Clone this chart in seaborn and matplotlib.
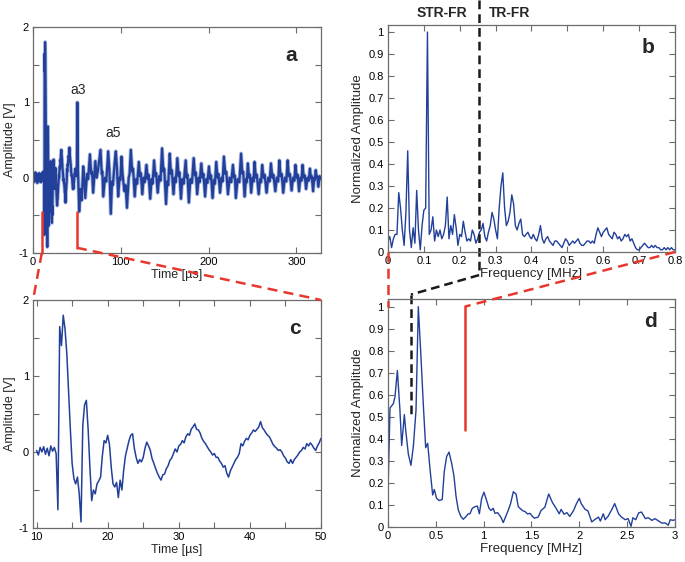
import numpy as np
import pandas as pd
import seaborn as sns
import matplotlib.pyplot as plt
from matplotlib.lines import Line2D

sns.set_theme(style="ticks")
plt.rcParams["font.family"] = ["Liberation Sans", "DejaVu Sans"]
plt.rcParams["axes.unicode_minus"] = False

BLUE = "#22409a"
RED = "#e8372c"

# ---- panel c: first arrivals, 10-50 us, one value every 0.25 us ----
v_c = [
    0.02, -0.04, 0.06, 0.00,     # 10
    0.07, -0.03, 0.05, -0.05,    # 11
    0.08, 0.01, 0.06, -0.02,     # 12
    -0.76, 1.65, 1.40, 1.80,     # 13
    1.62, 1.30, 0.80, 0.30,      # 14
    -0.15, -0.35, -0.42, -0.33,  # 15
    -0.55, -0.92, 0.35, 0.62,    # 16
    0.68, 0.30, -0.20, -0.64,    # 17
    -0.50, -0.55, -0.42, -0.38,  # 18
    -0.33, -0.05, 0.15, 0.12,    # 19
    0.22, 0.10, -0.20, -0.42,    # 20
    -0.46, -0.40, -0.60, -0.37,  # 21
    -0.50, -0.24, -0.05, 0.05,   # 22
    0.15, 0.22, 0.24, 0.05,      # 23
    -0.07, -0.15, -0.10, -0.13,  # 24
    -0.07, 0.05, 0.13, 0.08,     # 25
    0.02, -0.09, -0.15, -0.22,   # 26
    -0.28, -0.33, -0.37, -0.30,  # 27
    -0.29, -0.22, -0.18, -0.11,  # 28
    -0.08, -0.02, 0.04, 0.00,    # 29
    0.08, 0.10, 0.15, 0.12,      # 30
    0.20, 0.24, 0.22, 0.30,      # 31
    0.33, 0.37, 0.30, 0.29,      # 32
    0.25, 0.18, 0.14, 0.11,      # 33
    0.07, 0.03, 0.00, -0.04,     # 34
    -0.02, -0.07, -0.07, -0.12,  # 35
    -0.15, -0.20, -0.18, -0.28,  # 36
    -0.33, -0.25, -0.20, -0.15,  # 37
    -0.10, -0.07, -0.02, 0.11,   # 38
    0.08, 0.14, 0.18, 0.16,      # 39
    0.22, 0.25, 0.29, 0.27,      # 40
    0.30, 0.33, 0.40, 0.32,      # 41
    0.29, 0.25, 0.22, 0.20,      # 42
    0.15, 0.10, 0.07, 0.05,      # 43
    0.02, 0.03, 0.00, -0.05,     # 44
    -0.08, -0.13, -0.15, -0.10,  # 45
    -0.15, -0.10, -0.07, -0.04,  # 46
    0.00, 0.02, 0.06, 0.04,      # 47
    0.11, 0.08, 0.12, 0.09,      # 48
    0.05, 0.02, 0.08, 0.12,      # 49
    0.18,                        # 50
]
t_c = np.linspace(10, 50, len(v_c))

# ---- panel a: whole record, 0-328 us ----
t_head = [0.0, 0.7, 1.4, 2.1, 2.8, 3.5, 4.2, 4.9, 5.6, 6.3, 7.0, 7.7, 8.4, 9.1, 9.7]
v_head = [0.02, -0.06, 0.05, -0.04, 0.07, -0.05, 0.03, -0.07, 0.05, -0.03, 0.06, -0.05, 0.04, -0.06, 0.05]

t_tail = [
    50.5, 51.2, 52.6, 54.0, 55.5, 57.2, 58.3, 59.5, 61.5, 62.8,
    64.8, 66.3, 67.2, 68.5, 70.0, 71.0, 72.5, 74.0,
    76.9, 78.3, 79.0, 80.0, 82.0, 83.5,
    85.6, 87.0, 88.6, 90.0, 91.0,
    93.0, 94.3, 95.5, 97.0, 98.5, 99.5,
    100.8, 102.0, 104.0, 105.5, 107.0, 109.0, 110.0,
    111.4, 113.0, 114.0, 115.8, 117.3, 118.6,
    120.5, 121.8, 122.8, 124.5, 126.0, 127.3,
    129.2, 130.6, 131.6, 133.5, 135.0, 136.2,
    137.9, 139.3, 140.3, 142.0, 143.8, 145.2,
    147.0, 148.5, 149.5, 151.5, 152.8, 154.0,
    155.7, 157.1, 158.1, 160.0, 161.4, 162.6,
    164.4, 165.8, 166.8, 168.5, 170.0, 171.6,
    173.9, 175.0, 175.9, 177.5, 179.2, 181.0,
    183.0, 184.4, 185.4, 187.0, 188.6, 189.8,
    191.7, 193.1, 194.1, 196.0, 197.4, 198.6,
    200.4, 201.8, 202.8, 204.5, 206.0, 207.2,
    208.7, 210.2, 211.2, 213.0, 214.7, 216.0,
    217.4, 219.0, 220.2, 222.0, 224.0, 225.8,
    227.7, 229.0, 229.9, 231.0, 233.0, 235.0,
    237.0, 238.4, 239.4, 241.0, 242.5, 243.5,
    244.7, 246.0, 247.0, 248.5, 250.0, 251.2,
    252.3, 253.8, 254.9, 257.0, 258.6, 259.8,
    261.0, 262.6, 263.8, 266.0, 267.8, 269.5,
    271.0, 272.6, 273.8, 276.0, 277.6, 279.2,
    280.6, 282.0, 283.2, 285.0, 286.8, 288.5,
    290.0, 291.4, 292.6, 294.5, 296.2, 297.7,
    298.9, 300.3, 301.4, 303.0, 304.5, 305.8,
    307.0, 308.4, 309.5, 311.0, 312.6, 314.0,
    315.4, 316.6, 317.5, 319.0, 320.3, 321.0,
    322.0, 323.0, 323.8, 325.0, 326.5, 328.0,
]
v_tail = [
    1.00, 0.10, -0.45, -0.15, -0.30, 0.15, 0.00, -0.27, 0.05, -0.02,
    0.31, 0.05, 0.08, -0.20, 0.05, 0.22, 0.00, 0.10,
    0.37, 0.05, 0.08, -0.25, 0.00, -0.05,
    0.35, 0.10, -0.48, -0.05, -0.10,
    0.20, 0.35, 0.15, -0.25, 0.00, -0.03,
    0.28, 0.05, -0.18, -0.10, -0.40, 0.00, 0.05,
    0.37, 0.08, 0.12, -0.25, -0.02, -0.08,
    0.21, 0.02, 0.06, -0.22, 0.00, -0.06,
    0.17, -0.02, 0.04, -0.28, -0.02, -0.08,
    0.23, 0.02, 0.06, -0.20, 0.02, -0.04,
    0.39, 0.08, 0.12, -0.35, -0.05, -0.10,
    0.32, 0.05, 0.10, -0.22, 0.00, -0.06,
    0.26, 0.02, 0.07, -0.28, -0.02, -0.08,
    0.23, 0.00, 0.04, -0.33, -0.02, -0.07,
    0.26, 0.03, 0.07, -0.22, 0.00, -0.06,
    0.19, 0.00, 0.05, -0.25, -0.02, -0.07,
    0.15, -0.02, 0.03, -0.27, -0.03, -0.08,
    0.21, 0.00, 0.05, -0.20, 0.00, -0.05,
    0.28, 0.05, 0.08, -0.22, 0.00, -0.06,
    0.17, 0.00, 0.03, -0.27, -0.02, -0.06,
    0.32, 0.05, 0.08, -0.25, -0.02, -0.06,
    0.19, 0.00, 0.04, -0.20, 0.00, -0.05,
    0.21, 0.00, 0.04, -0.22, -0.02, -0.06,
    0.17, 0.00, 0.04, -0.20, 0.00, -0.05,
    0.19, 0.00, 0.04, -0.18, 0.00, -0.05,
    0.23, 0.02, 0.05, -0.20, 0.00, -0.05,
    0.23, 0.02, 0.05, -0.17, 0.00, -0.04,
    0.17, 0.00, 0.04, -0.18, 0.00, -0.04,
    0.17, 0.00, 0.03, -0.15, 0.00, -0.04,
    0.12, -0.01, 0.02, -0.18, 0.00, -0.03,
    0.10, 0.00, 0.02, -0.12, 0.02, -0.02,
]
t_a = np.concatenate([t_head, t_c, t_tail])
v_a = np.concatenate([v_head, v_c, v_tail])

# ---- panel b: spectrum of the whole record, every 0.005 MHz ----
amp_b = [
    0.05, 0.07, 0.02, 0.06, 0.08, 0.08, 0.27, 0.20, 0.10, 0.03,   # 0.000-0.045
    0.18, 0.46, 0.10, 0.02, 0.11, 0.04, 0.28, 0.10, 0.01, 0.12,   # 0.050-0.095
    0.19, 0.20, 1.00, 0.08, 0.10, 0.16, 0.05, 0.10, 0.07, 0.10,   # 0.100-0.145
    0.06, 0.08, 0.12, 0.25, 0.06, 0.12, 0.08, 0.17, 0.11, 0.03,   # 0.150-0.195
    0.08, 0.07, 0.14, 0.09, 0.05, 0.06, 0.05, 0.10, 0.08, 0.04,   # 0.200-0.245
    0.06, 0.09, 0.10, 0.13, 0.07, 0.05, 0.09, 0.12, 0.18, 0.15,   # 0.250-0.295
    0.10, 0.06, 0.20, 0.30, 0.36, 0.20, 0.12, 0.14, 0.18, 0.26,   # 0.300-0.345
    0.22, 0.12, 0.10, 0.13, 0.15, 0.08, 0.07, 0.08, 0.09, 0.07,   # 0.350-0.395
    0.06, 0.08, 0.06, 0.05, 0.08, 0.12, 0.06, 0.04, 0.06, 0.07,   # 0.400-0.445
    0.05, 0.04, 0.03, 0.05, 0.05, 0.04, 0.03, 0.02, 0.04, 0.06,   # 0.450-0.495
    0.05, 0.03, 0.04, 0.05, 0.04, 0.05, 0.06, 0.04, 0.03, 0.03,   # 0.500-0.545
    0.04, 0.05, 0.05, 0.04, 0.05, 0.04, 0.08, 0.11, 0.09, 0.07,   # 0.550-0.595
    0.09, 0.10, 0.11, 0.08, 0.07, 0.06, 0.09, 0.08, 0.06, 0.07,   # 0.600-0.645
    0.05, 0.06, 0.08, 0.07, 0.08, 0.05, 0.06, 0.04, 0.02, 0.01,   # 0.650-0.695
    0.01, 0.02, 0.03, 0.04, 0.03, 0.02, 0.02, 0.03, 0.02, 0.03,   # 0.700-0.745
    0.02, 0.02, 0.01, 0.01, 0.02, 0.01, 0.02, 0.01, 0.02, 0.01,   # 0.750-0.795
    0.01,                                                         # 0.800
]
f_b = np.linspace(0, 0.8, len(amp_b))

# ---- panel d: spectrum of the first arrivals, 0-3 MHz ----
f_d = [0.000, 0.021, 0.056, 0.073, 0.098, 0.125, 0.143, 0.171, 0.185, 0.213,
       0.240, 0.265, 0.293, 0.317, 0.345, 0.370, 0.394, 0.415, 0.440, 0.467,
       0.484, 0.508, 0.536, 0.567, 0.588, 0.613, 0.638, 0.665, 0.690, 0.711,
       0.735, 0.763, 0.787, 0.815, 0.840, 0.857, 0.881, 0.909, 0.934, 0.955,
       0.979, 1.003, 1.031, 1.056, 1.077, 1.100, 1.118, 1.146, 1.181, 1.205,
       1.230, 1.258, 1.282, 1.310, 1.338, 1.362, 1.387, 1.408, 1.432, 1.460,
       1.484, 1.512, 1.530, 1.570, 1.600, 1.640, 1.680, 1.720, 1.750, 1.790,
       1.810, 1.840, 1.870, 1.900, 1.940, 1.970, 2.000, 2.020, 2.060, 2.090,
       2.130, 2.160, 2.200, 2.220, 2.250, 2.270, 2.300, 2.340, 2.370, 2.410,
       2.440, 2.480, 2.510, 2.540, 2.560, 2.590, 2.620, 2.650, 2.690, 2.720,
       2.760, 2.790, 2.830, 2.860, 2.900, 2.930, 2.950, 2.980, 3.000]
amp_d = [0.15, 0.54, 0.56, 0.59, 0.71, 0.53, 0.37, 0.51, 0.44, 0.33,
         0.28, 0.365, 0.53, 1.00, 0.77, 0.55, 0.36, 0.38, 0.26, 0.145,
         0.17, 0.13, 0.12, 0.125, 0.25, 0.32, 0.34, 0.29, 0.23, 0.14,
         0.077, 0.047, 0.035, 0.047, 0.06, 0.06, 0.085, 0.092, 0.095, 0.06,
         0.13, 0.158, 0.12, 0.085, 0.075, 0.085, 0.062, 0.065, 0.044, 0.02,
         0.047, 0.077, 0.107, 0.16, 0.15, 0.092, 0.082, 0.074, 0.07, 0.059,
         0.062, 0.047, 0.04, 0.045, 0.075, 0.09, 0.15, 0.11, 0.09, 0.06,
         0.08, 0.058, 0.065, 0.048, 0.075, 0.106, 0.13, 0.106, 0.08, 0.073,
         0.023, 0.033, 0.045, 0.027, 0.06, 0.033, 0.048, 0.08, 0.106, 0.06,
         0.045, 0.033, 0.038, 0.003, 0.042, 0.033, 0.064, 0.068, 0.038, 0.042,
         0.03, 0.038, 0.027, 0.018, 0.018, 0.008, 0.033, 0.03, 0.033]

FR_SPLIT = 0.254  # boundary STR-FR / TR-FR


def style(ax, xt, yt, xlabels, ylabels):
    for s in ax.spines.values():
        s.set_color("#6b6b6b")
        s.set_linewidth(0.9)
    ax.tick_params(direction="in", top=True, right=True, length=4, width=0.8,
                   color="#6b6b6b", labelcolor="black", labelsize=8, pad=3)
    ax.set_xticks(xt)
    ax.set_xticklabels(xlabels)
    ax.set_yticks(yt)
    ax.set_yticklabels(ylabels)


fig = plt.figure(figsize=(6.85, 5.62), dpi=100)
ax_a = fig.add_axes([0.0482, 0.5498, 0.4204, 0.4021])
ax_b = fig.add_axes([0.5664, 0.5516, 0.4190, 0.4039])
ax_c = fig.add_axes([0.0482, 0.0605, 0.4204, 0.4057])
ax_d = fig.add_axes([0.5664, 0.0623, 0.4190, 0.4057])

amp_ticks = np.arange(-1, 2.01, 0.5)
amp_labels = [f"{v:g}" if v == int(v) else "" for v in amp_ticks]
norm_ticks = np.round(np.arange(0, 1.01, 0.1), 1)
norm_labels = [f"{v:g}" for v in norm_ticks]

# a
sns.lineplot(x=t_a, y=v_a, ax=ax_a, color="#a9b9e0", lw=2.8, estimator=None, sort=False)
sns.lineplot(x=t_a, y=v_a, ax=ax_a, color=BLUE, lw=1.6, estimator=None, sort=False)
ax_a.set_xlim(0, 328)
ax_a.set_ylim(-1, 2)
style(ax_a, [0, 100, 200, 300], amp_ticks, ["0", "100", "200", "300"], amp_labels)
ax_a.set_xlabel("Time [µs]", fontsize=9, labelpad=1)
ax_a.set_ylabel("Amplitude [V]", fontsize=9, labelpad=2)
ax_a.text(51, 1.16, "a3", fontsize=10, ha="center", va="center")
ax_a.text(91, 0.59, "a5", fontsize=10, ha="center", va="center")
ax_a.text(0.896, 0.876, "a", transform=ax_a.transAxes, fontsize=15,
          fontweight="bold", ha="center", va="center")

# b
sns.lineplot(x=f_b, y=amp_b, ax=ax_b, color=BLUE, lw=1.0, estimator=None, sort=False)
ax_b.set_xlim(0, 0.8)
ax_b.set_ylim(0, 1.032)
xb = np.round(np.arange(0, 0.81, 0.1), 1)
style(ax_b, xb, norm_ticks, [f"{v:g}" for v in xb], norm_labels)
ax_b.set_xlabel("Frequency [MHz]", fontsize=9.6, labelpad=1)
ax_b.set_ylabel("Normalized Amplitude", fontsize=9.5, labelpad=3)
ax_b.text(0.906, 0.903, "b", transform=ax_b.transAxes, fontsize=15,
          fontweight="bold", ha="center", va="center")
ax_b.text(0.15, 1.086, "STR-FR", fontsize=10, fontweight="bold", ha="center", va="center")
ax_b.text(0.34, 1.086, "TR-FR", fontsize=10, fontweight="bold", ha="center", va="center")

# c
sns.lineplot(x=t_c, y=v_c, ax=ax_c, color=BLUE, lw=1.1, estimator=None, sort=False)
ax_c.set_xlim(9.5, 50)
ax_c.set_ylim(-1, 2)
xc = np.arange(10, 51, 5)
style(ax_c, xc, amp_ticks, [f"{v}" if v % 10 == 0 else "" for v in xc], amp_labels)
ax_c.set_xlabel("Time [µs]", fontsize=9, labelpad=1)
ax_c.set_ylabel("Amplitude [V]", fontsize=9, labelpad=2)
ax_c.text(0.91, 0.877, "c", transform=ax_c.transAxes, fontsize=15,
          fontweight="bold", ha="center", va="center")

# d
sns.lineplot(x=f_d, y=amp_d, ax=ax_d, color=BLUE, lw=1.0, estimator=None, sort=False)
ax_d.set_xlim(0, 3)
ax_d.set_ylim(0, 1.035)
xd = np.arange(0, 3.01, 0.5)
style(ax_d, xd, norm_ticks, [f"{v:g}" for v in xd], norm_labels)
ax_d.set_xlabel("Frequency [MHz]", fontsize=9.6, labelpad=1)
ax_d.set_ylabel("Normalized Amplitude", fontsize=9.5, labelpad=3)
ax_d.text(0.913, 0.9, "d", transform=ax_d.transAxes, fontsize=15,
          fontweight="bold", ha="center", va="center")


# zoom markers and connectors (figure-level lines between data points of two axes)
def connect(axA, xyA, axB, xyB, **kw):
    inv = fig.transFigure.inverted()
    pA = inv.transform(axA.transData.transform(xyA))
    pB = inv.transform(axB.transData.transform(xyB))
    fig.add_artist(Line2D([pA[0], pB[0]], [pA[1], pB[1]], transform=fig.transFigure, **kw))


dash_r = dict(color=RED, lw=1.8, ls=(0, (4, 2.5)))
dash_k = dict(color="#1a1a1a", lw=1.8, ls=(0, (3.5, 2)))

ax_a.plot([10, 10], [-0.45, -1], color=RED, lw=1.8, clip_on=False)
ax_a.plot([50, 50], [-0.45, -0.93], color=RED, lw=1.8, clip_on=False)
connect(ax_a, (10, -1), ax_c, (9.5, 2), **dash_r)
connect(ax_a, (50, -0.93), ax_c, (50, 2), **dash_r)

connect(ax_b, (0, 0), ax_d, (0, 1.0), **dash_r)
connect(ax_b, (0.8, 0), ax_d, (0.8, 1.0), **dash_r)
ax_d.plot([0.8, 0.8], [1.0, 0.44], color=RED, lw=1.8, clip_on=False)

ax_b.plot([FR_SPLIT, FR_SPLIT], [1.145, -0.105], clip_on=False, **dash_k)
connect(ax_b, (FR_SPLIT, -0.105), ax_d, (0.24, 1.055), **dash_k)
ax_d.plot([0.24, 0.24], [1.055, 0.5], clip_on=False, **dash_k)

fig.savefig("out.png", dpi=100)
